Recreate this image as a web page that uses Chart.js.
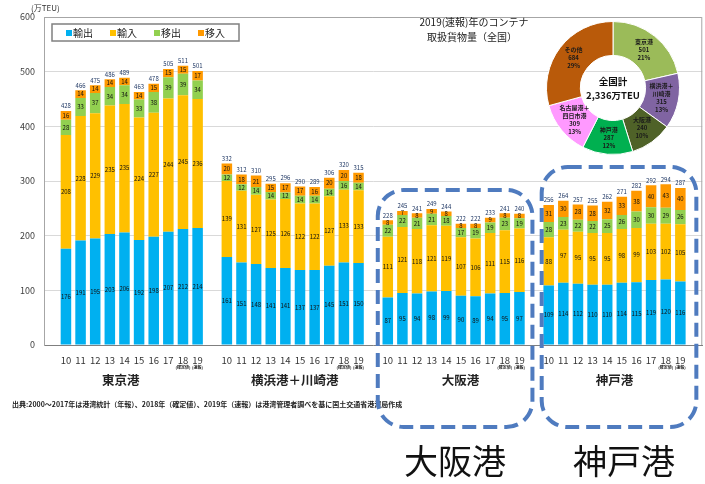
<!DOCTYPE html>
<html>
<head>
<meta charset="utf-8">
<script src="https://cdn.jsdelivr.net/npm/chart.js@4.4.0/dist/chart.umd.min.js"></script>
<style>
  html, body { margin: 0; padding: 0; background: #fff; overflow: hidden; }
  #wrap { position: relative; width: 705px; height: 484px; }
  #bar { position: absolute; left: 0; top: 0; }
  #pie { position: absolute; left: 546px; top: 21px; }
</style>
</head>
<body>
<div id="wrap">
  <canvas id="bar" width="705" height="484"></canvas>
  <canvas id="pie" width="134" height="134"></canvas>
</div>
<script>
const years = ['10', '11', '12', '13', '14', '15', '16', '17', '18', '19'];
const ports = ['東京港', '横浜港＋川崎港', '大阪港', '神戸港'];
const seriesNames = ['輸出', '輸入', '移出', '移入'];

// 万TEU, per port (Tokyo, Yokohama+Kawasaki, Osaka, Kobe), 2010-2019
const exportTEU = [
  [176, 191, 195, 203, 206, 192, 198, 207, 212, 214],
  [161, 151, 148, 141, 141, 137, 137, 145, 151, 150],
  [87, 95, 94, 98, 99, 90, 89, 94, 95, 97],
  [109, 114, 112, 110, 110, 114, 115, 119, 120, 116]
];
const importTEU = [
  [208, 228, 229, 235, 235, 224, 227, 244, 245, 236],
  [139, 131, 127, 125, 126, 122, 122, 127, 133, 133],
  [111, 121, 118, 121, 119, 107, 106, 111, 115, 116],
  [88, 97, 95, 95, 95, 98, 99, 103, 102, 105]
];
const outboundTEU = [
  [28, 33, 37, 34, 34, 33, 38, 39, 39, 34],
  [12, 12, 14, 14, 12, 14, 14, 14, 16, 14],
  [22, 22, 21, 21, 18, 17, 19, 19, 23, 19],
  [28, 23, 22, 22, 25, 26, 30, 30, 29, 26]
];
const inboundTEU = [
  [16, 14, 14, 14, 14, 14, 15, 15, 15, 17],
  [20, 18, 21, 15, 17, 17, 16, 20, 20, 18],
  [8, 7, 8, 9, 8, 8, 8, 9, 8, 8],
  [31, 30, 28, 28, 32, 33, 38, 40, 43, 40]
];
const yMax = 600;
const yStep = 100;

// pie: 2019 (速報) national container throughput
const pieNames = ['東京港', '横浜港＋\n川崎港', '大阪港', '神戸港', '名古屋港＋\n四日市港', 'その他'];
const pieValues = [501, 315, 240, 287, 309, 684];
const pieColors = ['#9bbb59', '#8064a2', '#4f6228', '#00b050', '#ff99ff', '#b95a0a'];

const seriesColors = ['#00b0f0', '#ffc000', '#92d050', '#ff9900'];
const seriesData = [exportTEU, importTEU, outboundTEU, inboundTEU];
const FONT = "'Noto Sans CJK JP', 'Noto Sans', sans-serif";

// category slots: blank, 10 years, blank, 10 years ... blank
const labels = [''];
const groupStart = [];
ports.forEach((p, i) => {
  if (i > 0) labels.push('');
  groupStart.push(labels.length);
  years.forEach(y => labels.push(y));
});
labels.push('');

function spread(byPort) {
  const out = labels.map(() => null);
  byPort.forEach((vals, p) => vals.forEach((v, i) => { out[groupStart[p] + i] = v; }));
  return out;
}

function roundRectPath(ctx, x, y, w, h, r) {
  ctx.beginPath();
  ctx.moveTo(x + r, y);
  ctx.lineTo(x + w - r, y);
  ctx.arcTo(x + w, y, x + w, y + r, r);
  ctx.lineTo(x + w, y + h - r);
  ctx.arcTo(x + w, y + h, x + w - r, y + h, r);
  ctx.lineTo(x + r, y + h);
  ctx.arcTo(x, y + h, x, y + h - r, r);
  ctx.lineTo(x, y + r);
  ctx.arcTo(x, y, x + r, y, r);
  ctx.closePath();
}

const overlay = {
  id: 'overlay',
  afterDatasetsDraw(chart) {
    const ctx = chart.ctx;
    ctx.save();
    ctx.textAlign = 'center';
    ctx.textBaseline = 'middle';
    ctx.font = '6px ' + FONT;
    ctx.fillStyle = '#111';
    chart.data.datasets.forEach((ds, k) => {
      const meta = chart.getDatasetMeta(k);
      meta.data.forEach((el, i) => {
        if (ds.data[i] == null) return;
        ctx.fillText(String(ds.data[i]), el.x, (el.y + el.base) / 2);
      });
    });
    // totals
    const top = chart.getDatasetMeta(3);
    ctx.fillStyle = '#203864';
    top.data.forEach((el, i) => {
      if (chart.data.datasets[3].data[i] == null) return;
      const sum = chart.data.datasets.reduce((a, ds) => a + ds.data[i], 0);
      ctx.fillText(String(sum), el.x, el.y - 5);
    });
    ctx.restore();
  },
  afterDraw(chart) {
    const ctx = chart.ctx;
    const x = chart.scales.x;
    const area = chart.chartArea;
    ctx.save();

    // plot frame top / right
    ctx.strokeStyle = '#a6a6a6';
    ctx.lineWidth = 1;
    ctx.beginPath();
    ctx.moveTo(area.left, area.top + 0.5);
    ctx.lineTo(area.right - 0.5, area.top + 0.5);
    ctx.lineTo(area.right - 0.5, area.bottom);
    ctx.stroke();

    // unit
    ctx.fillStyle = '#333';
    ctx.font = '8px ' + FONT;
    ctx.textAlign = 'left';
    ctx.textBaseline = 'middle';
    ctx.fillText('(万TEU)', 31, 8);

    // legend
    ctx.strokeStyle = '#808080';
    ctx.lineWidth = 1.5;
    ctx.fillStyle = '#fff';
    ctx.fillRect(52, 24, 187, 17);
    ctx.strokeRect(52, 24, 187, 17);
    const legX = [66, 110, 154, 198];
    ctx.font = '10px ' + FONT;
    seriesNames.forEach((n, k) => {
      ctx.fillStyle = seriesColors[k];
      ctx.fillRect(legX[k], 30, 6, 6);
      ctx.fillStyle = '#222';
      ctx.fillText(n, legX[k] + 7, 33);
    });

    // pie title
    ctx.textAlign = 'center';
    ctx.font = '10px ' + FONT;
    ctx.fillStyle = '#222';
    ctx.fillText('2019(速報)年のコンテナ', 474, 22);
    ctx.fillText('取扱貨物量（全国）', 472, 37);

    // tiny notes under 18 / 19
    ctx.font = 'bold 4px ' + FONT;
    ctx.fillStyle = '#222';
    groupStart.forEach(g => {
      ctx.fillText('(確定値)', x.getPixelForValue(g + 8), 367);
      ctx.fillText('(速報)', x.getPixelForValue(g + 9), 367);
    });

    // port names
    const shift = [-11, 2, 7, 0];
    ctx.font = 'bold 12.5px ' + FONT;
    ctx.fillStyle = '#222';
    ports.forEach((p, i) => {
      const cx = (x.getPixelForValue(groupStart[i]) + x.getPixelForValue(groupStart[i] + 9)) / 2;
      ctx.fillText(p, cx + shift[i], 380);
    });

    // source note
    ctx.textAlign = 'left';
    ctx.font = 'bold 7px ' + FONT;
    ctx.fillText('出典:2000～2017年は港湾統計（年報）、2018年（確定値）、2019年（速報）は港湾管理者調べを基に国土交通省港湾局作成', 12, 404);

    // dashed highlight boxes for Osaka and Kobe
    ctx.strokeStyle = '#4f7bbf';
    ctx.lineWidth = 4;
    ctx.setLineDash([14, 7]);
    const oL = x.getPixelForValue(groupStart[2]) - 10;
    const oR = x.getPixelForValue(groupStart[2] + 9) + 13;
    roundRectPath(ctx, oL, 190, oR - oL, 237, 26);
    ctx.stroke();
    const kL = x.getPixelForValue(groupStart[3]) - 7;
    const kR = x.getPixelForValue(groupStart[3] + 9) + 16;
    roundRectPath(ctx, kL, 167, kR - kL, 260, 26);
    ctx.stroke();
    ctx.setLineDash([]);

    // big captions
    ctx.textAlign = 'center';
    ctx.textBaseline = 'middle';
    ctx.fillStyle = '#111';
    ctx.font = '34px ' + FONT;
    ctx.fillText('大阪港', (oL + oR) / 2, 461);
    ctx.fillText('神戸港', (kL + kR) / 2 + 5, 461);
    ctx.restore();
  }
};

new Chart(document.getElementById('bar'), {
  type: 'bar',
  data: {
    labels: labels,
    datasets: seriesNames.map((name, k) => ({
      label: name,
      data: spread(seriesData[k]),
      backgroundColor: seriesColors[k],
      categoryPercentage: 1,
      barPercentage: 0.72
    }))
  },
  options: {
    responsive: false,
    animation: false,
    devicePixelRatio: 1,
    layout: { padding: { top: 17, right: 2, left: 0, bottom: 0 } },
    plugins: { legend: { display: false }, tooltip: { enabled: false } },
    scales: {
      x: {
        stacked: true,
        grid: { display: false, drawTicks: false },
        border: { color: '#7f7f7f' },
        ticks: { autoSkip: false, maxRotation: 0, padding: 10, color: '#333', font: { family: FONT, size: 9.5 } },
        afterFit: s => { s.height = 139; }
      },
      y: {
        stacked: true,
        min: 0,
        max: yMax,
        ticks: { stepSize: yStep, padding: 9, color: '#404040', font: { family: FONT, size: 9 } },
        grid: { color: '#d9d9d9', drawTicks: false },
        border: { color: '#a6a6a6' },
        afterFit: s => { s.width = 44; }
      }
    }
  },
  plugins: [overlay]
});

// pie (doughnut) of 2019 national throughput
const pieTotal = pieValues.reduce((a, b) => a + b, 0);
const pieLabels = {
  id: 'pieLabels',
  afterDatasetsDraw(chart) {
    const ctx = chart.ctx;
    const meta = chart.getDatasetMeta(0);
    ctx.save();
    ctx.textAlign = 'center';
    ctx.textBaseline = 'middle';
    ctx.fillStyle = '#1a1a1a';
    ctx.font = 'bold 6px ' + FONT;
    meta.data.forEach((arc, i) => {
      const a = (arc.startAngle + arc.endAngle) / 2;
      const r = (arc.innerRadius + arc.outerRadius) / 2;
      const cx = arc.x + Math.cos(a) * r;
      const cy = arc.y + Math.sin(a) * r;
      const lines = pieNames[i].split('\n');
      lines.push(String(pieValues[i]));
      lines.push(Math.round(pieValues[i] / pieTotal * 100) + '%');
      const h = 8;
      lines.forEach((t, j) => ctx.fillText(t, cx, cy + (j - (lines.length - 1) / 2) * h));
    });
    const c = meta.data[0];
    ctx.font = 'bold 9.5px ' + FONT;
    ctx.fillStyle = '#111';
    ctx.fillText('全国計', c.x, c.y - 7);
    ctx.fillText(pieTotal.toLocaleString('en-US') + '万TEU', c.x, c.y + 7);
    ctx.restore();
  }
};

new Chart(document.getElementById('pie'), {
  type: 'doughnut',
  data: {
    labels: pieNames,
    datasets: [{ data: pieValues, backgroundColor: pieColors, borderColor: '#fff', borderWidth: 1 }]
  },
  options: {
    responsive: false,
    animation: false,
    devicePixelRatio: 1,
    cutout: '49%',
    layout: { padding: 0 },
    plugins: { legend: { display: false }, tooltip: { enabled: false } }
  },
  plugins: [pieLabels]
});
</script>
</body>
</html>
